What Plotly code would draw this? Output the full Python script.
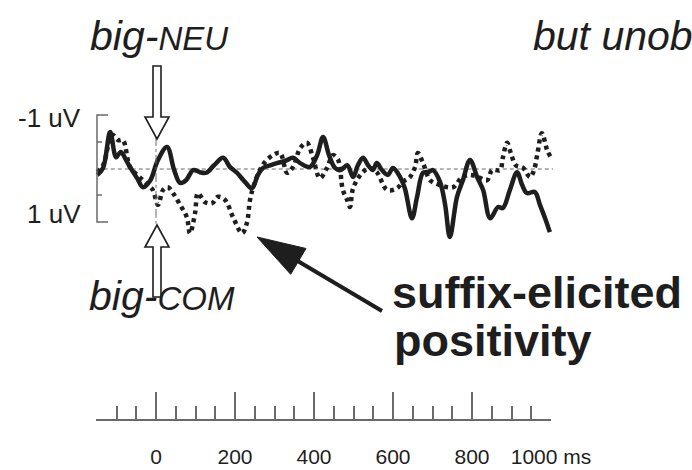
import plotly.graph_objects as go

# ---------------- data ----------------
# time in ms, amplitude in microvolts (negative plotted upwards)
solid_t = [-149, -134, -116, -101, -89, -76, -66, -48, -33, -15, 5, 28, 46, 61, 76, 94, 111, 127,
           147, 170, 187, 205, 225, 243, 258, 271, 289, 306, 327, 347, 365, 390, 408, 423, 438,
           453, 468, 484, 499, 511, 524, 537, 549, 559, 572, 587, 600, 618, 630, 648, 661, 676,
           689, 701, 719, 732, 744, 762, 777, 795, 813, 828, 846, 866, 878, 896, 914, 927, 939,
           959, 972, 985, 997]
solid_v = [0.11, -0.02, -0.69, -0.22, -0.32, -0.17, -0.04, 0.17, 0.34, 0.22, -0.17, -0.41, 0.02,
           0.26, 0.21, 0.02, 0.06, 0.07, -0.07, -0.21, -0.04, 0.07, 0.24, 0.36, 0.11, -0.02, -0.07,
           -0.11, -0.15, -0.21, -0.11, -0.04, -0.26, -0.60, -0.26, -0.02, 0.02, -0.07, 0.15, -0.07,
           -0.21, -0.07, 0.02, -0.11, 0.02, 0.11, -0.02, 0.15, 0.36, 0.92, 0.52, 0.07, 0.06, 0.02,
           0.24, 0.67, 1.27, 0.52, 0.21, -0.17, 0.15, 0.39, 0.92, 0.71, 0.73, 0.39, 0.06, 0.30,
           0.45, 0.43, 0.67, 0.92, 1.18]

dotted_t = [-149, -134, -111, -96, -84, -66, -48, -33, -20, -8, 5, 18, 30, 43, 61, 78, 86, 99, 106,
            124, 142, 157, 175, 195, 218, 230, 238, 246, 263, 276, 296, 314, 332, 347, 365, 382,
            397, 415, 433, 448, 461, 473, 484, 491, 499, 522, 542, 559, 585, 610, 625, 643, 656,
            663, 676, 694, 719, 752, 775, 795, 815, 838, 851, 871, 878, 889, 899, 911, 929, 947,
            957, 965, 977, 990, 1000]
dotted_v = [0.06, -0.07, -0.64, -0.54, -0.54, -0.04, 0.11, 0.21, 0.30, 0.39, 0.67, 0.39, 0.34, 0.45,
            0.67, 0.90, 1.20, 0.82, 0.45, 0.62, 0.64, 0.52, 0.58, 0.90, 1.20, 1.01, 0.58, 0.34, 0.02,
            -0.13, -0.26, -0.30, 0.07, -0.04, -0.39, -0.49, -0.22, 0.17, -0.02, -0.26, -0.17, 0.39,
            0.58, 0.71, 0.36, 0.07, -0.02, 0.06, 0.39, 0.36, 0.24, 0.15, -0.04, -0.30, -0.11, 0.21,
            0.30, 0.34, 0.15, 0.11, 0.15, 0.21, 0.02, 0.02, -0.21, -0.49, -0.28, -0.07, -0.02, 0.15,
            0.02, -0.26, -0.67, -0.36, -0.21]

major_ticks = [0, 200, 400, 600, 800, 1000]
major_labels = ["0", "200", "400", "600", "800", "1000 ms"]
minor_ticks = [-100, -50, 50, 100, 150, 250, 300, 350, 450, 500, 550, 650, 700, 750, 850, 900, 950]

# ---------------- layout geometry ----------------
W, H = 692, 470
X0_PX, MS_PX = 156, 0.395       # x pixel of 0 ms, pixels per ms
Y0_PX, UV_PX = 169, 53.5        # y pixel of 0 uV, pixels per uV
x_range = [(0 - X0_PX) / MS_PX, (W - X0_PX) / MS_PX]
y_range = [(H - Y0_PX) / UV_PX, (0 - Y0_PX) / UV_PX]   # reversed: negative up

INK = "#1e1e1e"
GRAY = "#6a6a6a"


def P(x, y):
    return x / W, 1 - y / H


def path(points):
    s = ""
    for i, (x, y) in enumerate(points):
        px, py = P(x, y)
        s += ("M" if i == 0 else "L") + f"{px:.5f},{py:.5f} "
    return s + "Z"


fig = go.Figure()

# baseline
fig.add_trace(go.Scatter(x=[-150, 1005], y=[0, 0], mode="lines",
                         line=dict(color=GRAY, width=1, dash="4px,3px"),
                         hoverinfo="skip", showlegend=False))
# waveforms
fig.add_trace(go.Scatter(x=dotted_t, y=dotted_v, mode="lines", line_shape="spline",
                         line=dict(color=INK, width=4.5, dash="4px,4px"),
                         showlegend=False))
fig.add_trace(go.Scatter(x=solid_t, y=solid_v, mode="lines", line_shape="spline",
                         line=dict(color=INK, width=4.5), showlegend=False))
# onset marker
fig.add_trace(go.Scatter(x=[0, 0], y=[-0.6, 1.02], mode="lines",
                         line=dict(color=GRAY, width=1, dash="dashdot"),
                         hoverinfo="skip", showlegend=False))
# empty trace to carry the time axis
fig.add_trace(go.Scatter(x=[], y=[], xaxis="x2", yaxis="y", showlegend=False))

shapes = []
# voltage calibration bracket
br = dict(type="path", xref="paper", yref="paper", line=dict(color=GRAY, width=1.5))
shapes.append(dict(br, path="M{:.5f},{:.5f} L{:.5f},{:.5f} L{:.5f},{:.5f} L{:.5f},{:.5f}".format(
    *P(108, 115), *P(97, 115), *P(97, 222), *P(108, 222))))
for yy in (142, 195):
    shapes.append(dict(type="line", xref="paper", yref="paper",
                       x0=P(97, yy)[0], y0=P(97, yy)[1], x1=P(102, yy)[0], y1=P(102, yy)[1],
                       line=dict(color=GRAY, width=1.5)))

# hollow arrows
hollow = dict(type="path", xref="paper", yref="paper", fillcolor="white",
              line=dict(color=INK, width=1.6))
shapes.append(dict(hollow, path=path([(153, 66), (153, 117), (145, 117), (157, 139),
                                      (169, 117), (161, 117), (161, 66)])))
shapes.append(dict(hollow, path=path([(153, 297), (153, 247), (145, 247), (157, 225),
                                      (169, 247), (161, 247), (161, 297)])))

# big black arrow
shapes.append(dict(type="line", xref="paper", yref="paper",
                   x0=P(382, 311)[0], y0=P(382, 311)[1], x1=P(296, 260)[0], y1=P(296, 260)[1],
                   line=dict(color=INK, width=4)))
shapes.append(dict(type="path", xref="paper", yref="paper", fillcolor=INK,
                   line=dict(color=INK, width=1),
                   path=path([(257, 237), (306, 248.5), (290.7, 274.3)])))

FONT = "Liberation Sans, Arial, sans-serif"


def txt(x, y, s, size, xanchor="left", family=FONT, **kw):
    px, py = P(x, y)
    return dict(x=px, y=py, xref="paper", yref="paper", text=s, showarrow=False,
                xanchor=xanchor, yanchor="middle", font=dict(family=family, size=size, color=INK), **kw)


annotations = [
    txt(88, 36, "<i>big-<span style='font-size:33px'>NEU</span></i>", 41),
    txt(87, 296, "<i>big-<span style='font-size:33px'>COM</span></i>", 41),
    txt(531, 36, "<i>but unob</i>", 41),
    txt(390, 292, "<b>suffix-elicited</b>", 45),
    txt(392, 340, "<b>positivity</b>", 45),
    txt(83, 118, "-1 uV", 26, xanchor="right"),
    txt(83, 214, "1 uV", 26, xanchor="right"),
]

fig.update_layout(
    width=W, height=H, margin=dict(l=0, r=0, t=0, b=0, autoexpand=False),
    paper_bgcolor="white", plot_bgcolor="rgba(0,0,0,0)",
    xaxis=dict(range=x_range, visible=False, domain=[0, 1]),
    yaxis=dict(range=y_range, visible=False, domain=[0, 1]),
    xaxis2=dict(domain=[96 / W, 551 / W], range=[-152, 1000], anchor="free",
                position=(H - 420) / H, automargin=False,
                showline=True, linecolor=GRAY, linewidth=1.5, showgrid=False, zeroline=False,
                ticks="inside", ticklen=27, tickwidth=1.5, tickcolor=GRAY,
                tickmode="array", tickvals=major_ticks, ticktext=major_labels,
                tickfont=dict(family=FONT, size=21, color=INK), ticklabelstandoff=18,
                minor=dict(ticks="inside", ticklen=13, tickwidth=1.5, tickcolor=GRAY,
                           tickmode="array", tickvals=minor_ticks)),
    shapes=shapes, annotations=annotations,
)

fig.write_html("out.html", config={"displayModeBar": False},
               post_script="document.body.style.margin='0';")
